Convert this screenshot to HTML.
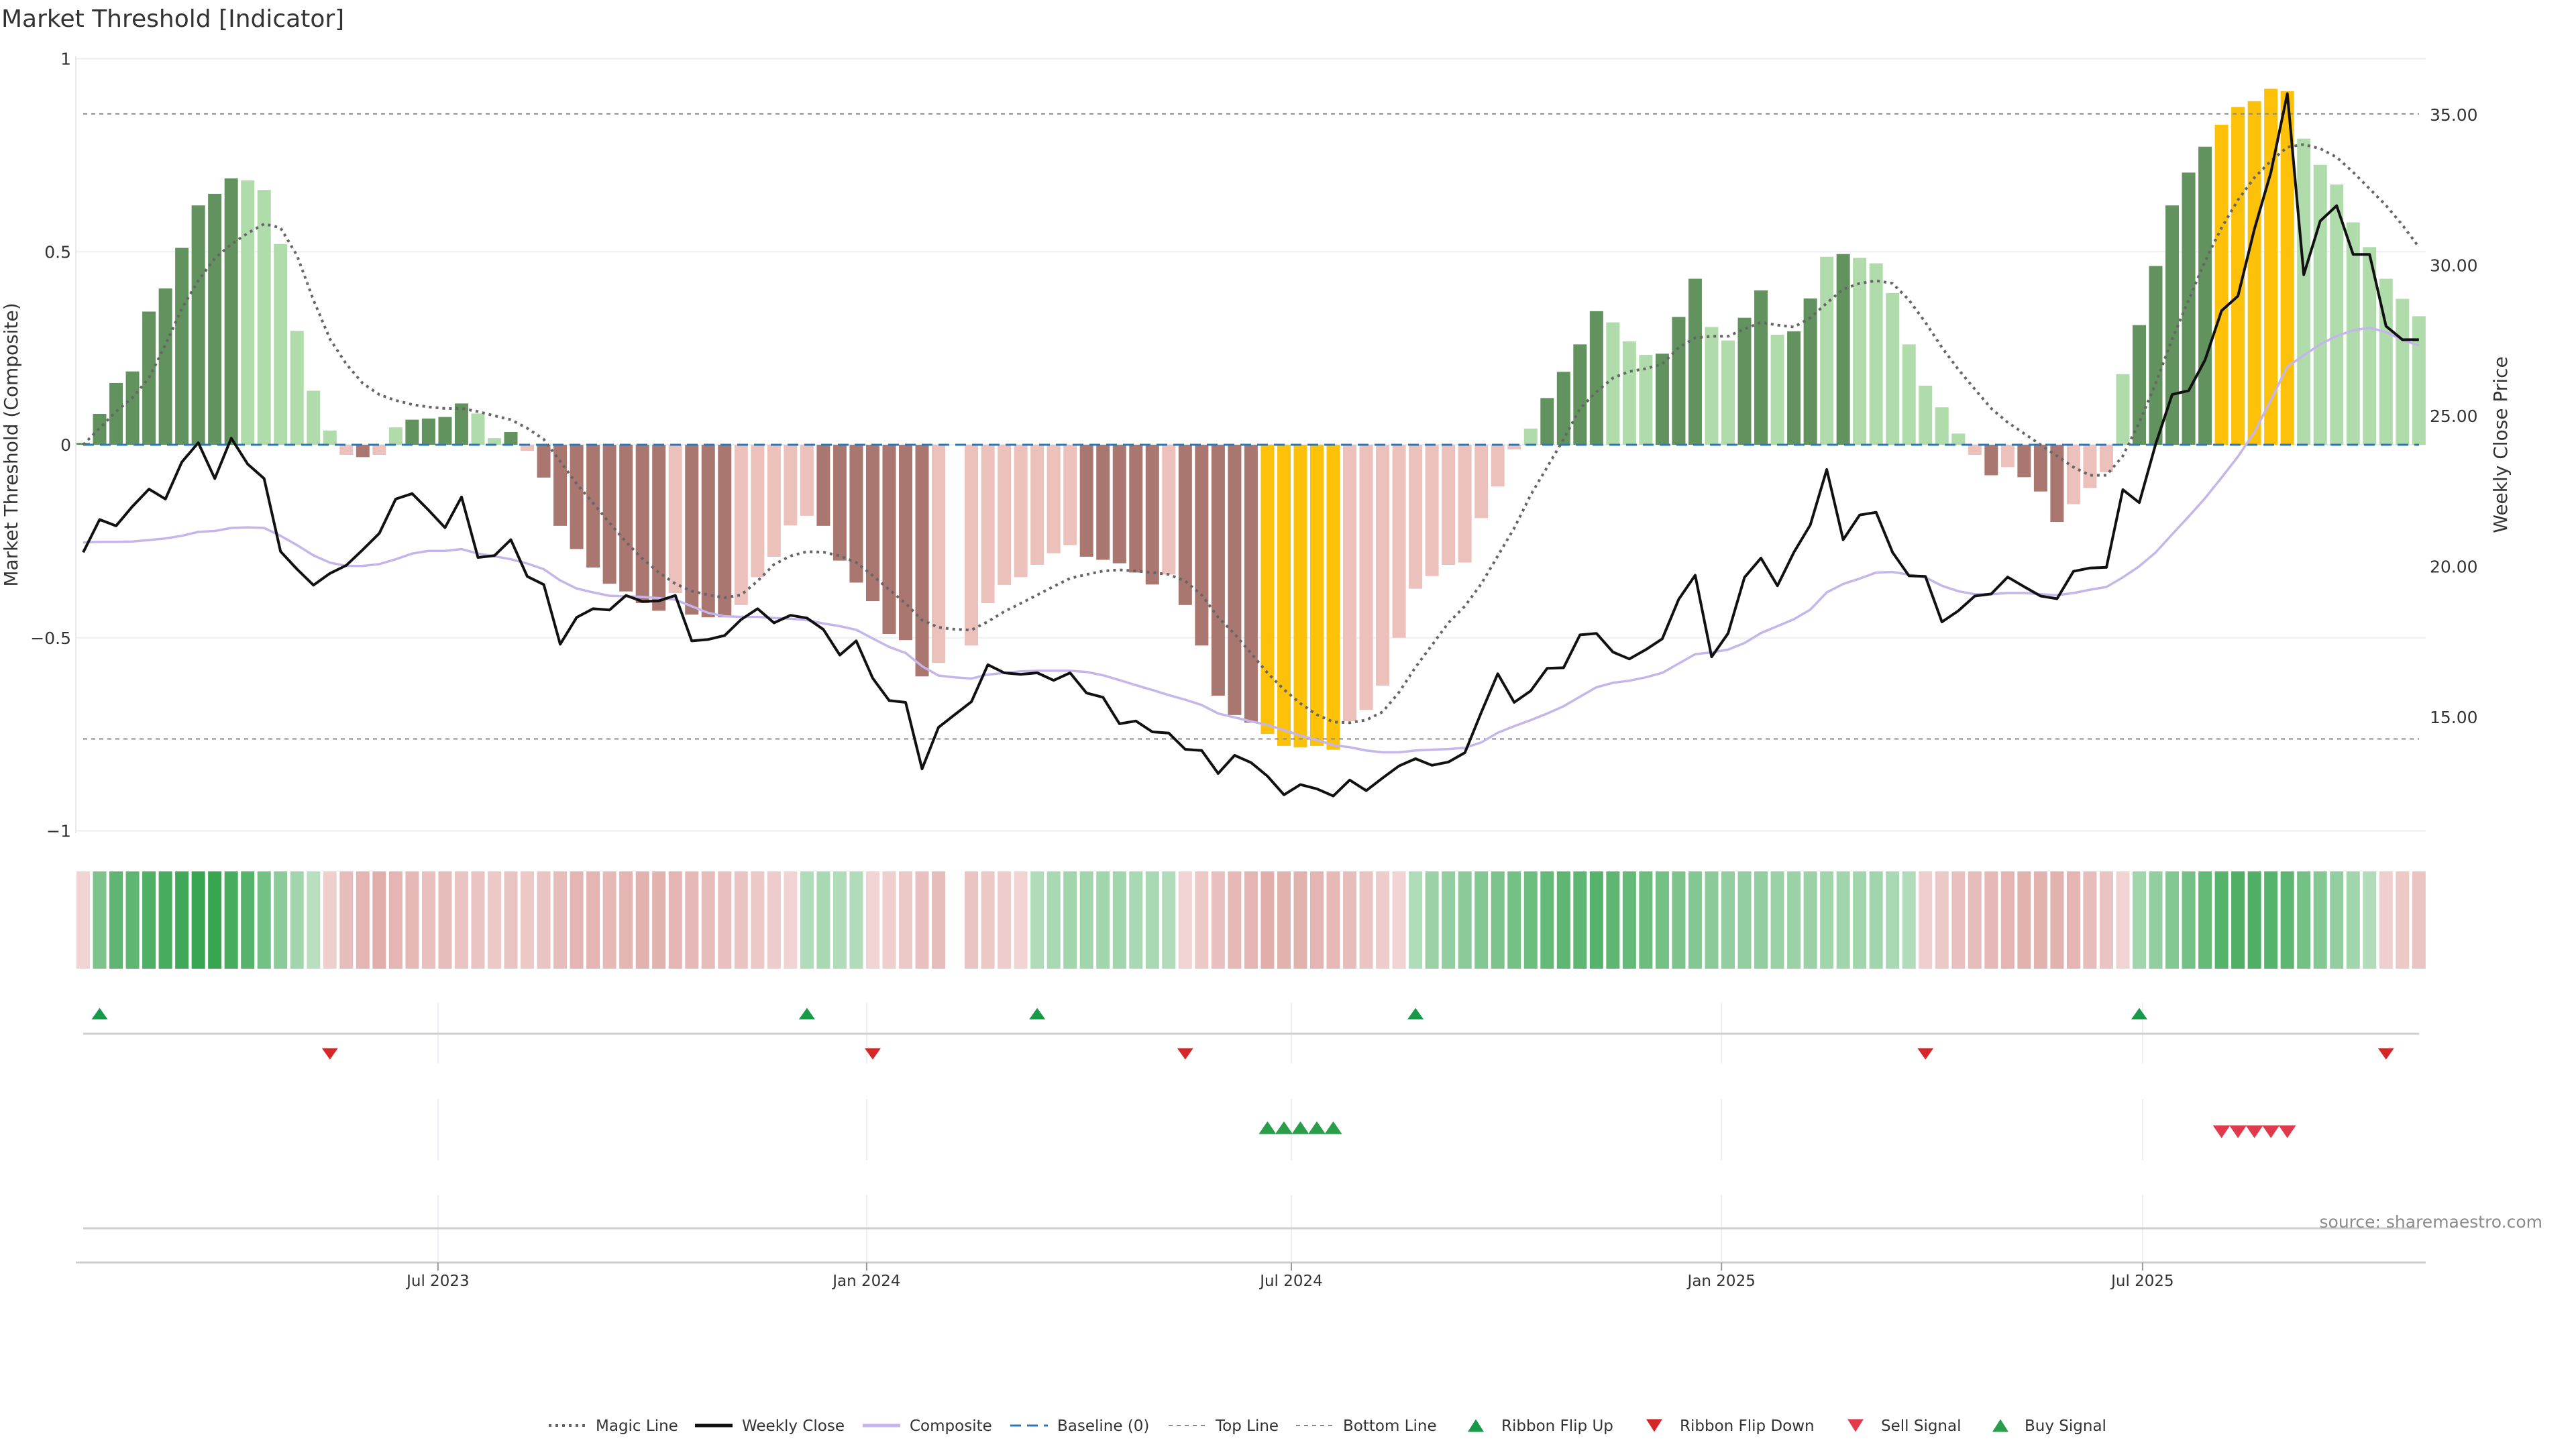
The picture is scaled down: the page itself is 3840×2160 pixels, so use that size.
<!DOCTYPE html>
<html><head><meta charset="utf-8"><title>Market Threshold [Indicator]</title>
<style>
html,body{margin:0;padding:0;background:#fff;}
svg{display:block;font-family:"DejaVu Sans","Liberation Sans",sans-serif;}
</style></head>
<body>
<svg id="chart" width="3840" height="2160" viewBox="0 0 3840 2160" xmlns="http://www.w3.org/2000/svg">
  <rect x="0" y="0" width="3840" height="2160" fill="#ffffff"/>
  <text x="2" y="40" font-size="36" fill="#333">Market Threshold [Indicator]</text>
  <g id="grid"></g>
  <g id="bars"></g>
  <g id="lines"></g>
  <g id="ribbon"></g>
  <g id="signals"></g>
  <g id="axes"></g>
  <g id="legend"></g>
</svg>
<script>
const categories = ["Jul 2023","Jan 2024","Jul 2024","Jan 2025","Jul 2025"];
const tickIndex = [21.57,47.63,73.45,99.6,125.2];
const leftTicks = [1,0.5,0,-0.5,-1];
const leftTickLabels = ["1","0.5","0","\u22120.5","\u22121"];
const rightTicks = [35,30,25,20,15];
const rightTickLabels = ["35.00","30.00","25.00","20.00","15.00"];
const topLineValue = 0.857;
const bottomLineValue = -0.762;

const compositeBars = [0.005,0.08,0.16,0.19,0.345,0.405,0.51,0.62,0.65,0.69,
0.685,0.66,0.52,0.295,0.14,0.037,-0.026,-0.032,-0.026,0.045,
0.065,0.068,0.072,0.107,0.081,0.017,0.033,-0.016,-0.085,-0.21,
-0.27,-0.318,-0.36,-0.38,-0.41,-0.43,-0.384,-0.44,-0.447,-0.447,
-0.415,-0.343,-0.29,-0.209,-0.184,-0.21,-0.30,-0.357,-0.405,-0.49,
-0.506,-0.60,-0.565,null,-0.52,-0.41,-0.363,-0.343,-0.311,-0.281,
-0.26,-0.29,-0.298,-0.307,-0.331,-0.362,-0.336,-0.415,-0.52,-0.65,
-0.70,-0.72,-0.749,-0.78,-0.784,-0.78,-0.79,-0.716,-0.687,-0.624,
-0.50,-0.373,-0.34,-0.311,-0.305,-0.19,-0.108,-0.012,0.042,0.121,
0.189,0.26,0.346,0.317,0.268,0.233,0.236,0.331,0.43,0.305,
0.27,0.329,0.40,0.285,0.294,0.379,0.487,0.494,0.484,0.47,
0.393,0.26,0.153,0.097,0.029,-0.026,-0.079,-0.058,-0.084,-0.121,
-0.20,-0.154,-0.112,-0.071,0.183,0.31,0.463,0.62,0.705,0.772,
0.829,0.875,0.89,0.922,0.916,0.793,0.725,0.674,0.576,0.512,
0.43,0.378,0.333];
const barStates = ("GGGGGGGGGG"+"ggggggrRrg"+"GGGGggGrRR"+"RRRRRRrRRR"+"rrrrrRRRRR"+
"RRr-rrrrrr"+"rRRRRRrRRR"+"RRYYYYYrrr"+"rrrrrrrrgG"+"GGGgggGGGg"+
"gGGgGGgGgg"+"gggggrRrRR"+"RrrrgGGGGG"+"YYYYYggggg"+"ggg").split("");
const weeklyClose = [20.47,21.56,21.35,22.0,22.57,22.24,23.47,24.11,22.92,24.26,
23.4,22.92,20.5,19.91,19.38,19.77,20.04,20.56,21.1,22.24,
22.42,21.87,21.29,22.31,20.3,20.36,20.89,19.67,19.4,17.42,
18.31,18.6,18.56,19.04,18.84,18.86,19.04,17.53,17.58,17.71,
18.24,18.6,18.13,18.38,18.29,17.91,17.06,17.53,16.29,15.55,
15.49,13.28,14.66,15.09,15.51,16.74,16.47,16.42,16.47,16.22,
16.47,15.8,15.66,14.78,14.87,14.51,14.47,13.93,13.89,13.13,
13.73,13.49,13.04,12.42,12.76,12.62,12.38,12.91,12.56,12.98,
13.38,13.62,13.4,13.51,13.82,15.16,16.44,15.49,15.87,16.62,
16.64,17.73,17.78,17.16,16.93,17.24,17.6,18.91,19.71,17.0,
17.78,19.64,20.28,19.36,20.47,21.38,23.22,20.89,21.71,21.8,
20.47,19.69,19.67,18.16,18.53,19.02,19.09,19.65,19.33,19.02,
18.93,19.84,19.95,19.97,22.55,22.12,24.07,25.71,25.84,26.86,
28.49,28.98,31.2,33.09,35.7,29.69,31.47,31.98,30.36,30.36,
27.98,27.53,27.53];
const compositeLine = [20.80,20.82,20.82,20.83,20.88,20.93,21.02,21.15,21.18,21.28,
21.30,21.28,21.02,20.71,20.37,20.13,20.02,20.02,20.08,20.24,
20.43,20.52,20.52,20.58,20.43,20.34,20.24,20.10,19.91,19.54,
19.27,19.14,19.03,19.01,18.99,18.95,18.90,18.68,18.46,18.35,
18.33,18.33,18.29,18.27,18.22,18.11,18.02,17.90,17.61,17.33,
17.13,16.69,16.38,16.32,16.28,16.41,16.47,16.52,16.54,16.54,
16.54,16.50,16.39,16.23,16.06,15.90,15.73,15.58,15.40,15.12,
14.99,14.86,14.74,14.57,14.39,14.24,14.07,14.00,13.89,13.83,
13.83,13.89,13.92,13.94,13.98,14.16,14.48,14.70,14.90,15.12,
15.36,15.68,15.99,16.14,16.21,16.32,16.47,16.78,17.09,17.15,
17.24,17.46,17.79,18.02,18.25,18.57,19.14,19.42,19.60,19.80,
19.82,19.73,19.64,19.36,19.18,19.08,19.08,19.12,19.12,19.08,
19.05,19.12,19.23,19.32,19.64,20.01,20.47,21.07,21.66,22.27,
22.95,23.65,24.46,25.53,26.64,27.01,27.38,27.65,27.84,27.93,
27.78,27.52,27.34];
const magicLine = [0.0,0.043,0.086,0.122,0.173,0.259,0.353,0.425,0.483,0.519,
0.548,0.572,0.562,0.49,0.375,0.274,0.209,0.159,0.13,0.115,
0.104,0.098,0.094,0.094,0.086,0.075,0.065,0.043,0.014,-0.043,
-0.101,-0.151,-0.202,-0.252,-0.295,-0.331,-0.36,-0.379,-0.389,-0.396,
-0.389,-0.353,-0.31,-0.288,-0.277,-0.278,-0.288,-0.305,-0.339,-0.375,
-0.411,-0.454,-0.473,-0.478,-0.48,-0.458,-0.432,-0.411,-0.389,-0.367,
-0.346,-0.336,-0.327,-0.324,-0.327,-0.331,-0.336,-0.353,-0.389,-0.447,
-0.49,-0.54,-0.591,-0.634,-0.67,-0.699,-0.718,-0.72,-0.713,-0.692,
-0.641,-0.576,-0.519,-0.461,-0.418,-0.36,-0.288,-0.216,-0.13,-0.058,
0.014,0.094,0.137,0.173,0.19,0.197,0.209,0.252,0.277,0.281,
0.281,0.30,0.317,0.31,0.305,0.329,0.367,0.403,0.418,0.425,
0.418,0.375,0.317,0.252,0.195,0.144,0.094,0.058,0.029,0.0,
-0.029,-0.058,-0.079,-0.079,-0.029,0.058,0.159,0.274,0.375,0.476,
0.562,0.634,0.692,0.735,0.771,0.778,0.767,0.745,0.706,0.663,
0.62,0.569,0.512];
const ribbonLevels = [-0.15,0.55,0.75,0.75,0.85,0.9,0.95,1,1,0.9,
0.8,0.6,0.45,0.3,0.15,-0.2,-0.45,-0.55,-0.65,-0.55,
-0.5,-0.4,-0.45,-0.35,-0.35,-0.3,-0.35,-0.3,-0.35,-0.45,
-0.55,-0.55,-0.5,-0.55,-0.6,-0.6,-0.55,-0.5,-0.45,-0.4,
-0.35,-0.3,-0.25,-0.15,0.2,0.25,0.2,0.2,-0.15,-0.2,
-0.3,-0.4,-0.45,null,-0.35,-0.3,-0.25,-0.15,0.2,0.25,
0.3,0.3,0.3,0.3,0.25,0.25,0.2,-0.15,-0.3,-0.4,
-0.5,-0.55,-0.65,-0.6,-0.6,-0.55,-0.5,-0.45,-0.35,-0.25,
-0.15,0.2,0.35,0.4,0.45,0.5,0.55,0.6,0.65,0.7,
0.75,0.75,0.8,0.75,0.7,0.65,0.6,0.55,0.5,0.45,
0.4,0.4,0.4,0.35,0.35,0.35,0.3,0.3,0.3,0.3,
0.25,0.2,-0.2,-0.3,-0.4,-0.45,-0.5,-0.55,-0.6,-0.6,
-0.6,-0.55,-0.45,-0.35,-0.15,0.3,0.4,0.5,0.6,0.7,
0.8,0.85,0.85,0.8,0.75,0.6,0.5,0.4,0.3,0.2,
-0.2,-0.3,-0.35];
const flipUpIdx = [1,44,58,81,125];
const flipDownIdx = [15,48,67,112,140];
const buyIdx = [72,73,74,75,76];
const sellIdx = [130,131,132,133,134];

const NS = "http://www.w3.org/2000/svg";
const X0 = 124, DX = 24.52;
const xS = i => X0 + i * DX;
const yL = v => 663 - v * 575.5;
const yP = p => 171 + (35 - p) * 44.9;
const PL = 113, PR = 3616;

function mk(tag, attrs, parent) {
  const el = document.createElementNS(NS, tag);
  for (const k in attrs) el.setAttribute(k, attrs[k]);
  parent.appendChild(el);
  return el;
}
const grid = document.getElementById("grid");
const bars = document.getElementById("bars");
const lines = document.getElementById("lines");
const ribbon = document.getElementById("ribbon");
const signals = document.getElementById("signals");
const axes = document.getElementById("axes");
const legend = document.getElementById("legend");

leftTicks.forEach((v, k) => {
  const g = mk("line", {x1: PL, x2: PR, y1: yL(v), y2: yL(v), stroke: "#eceef3", "stroke-width": 2}, grid);
  
  
  const t = mk("text", {x: 106, y: yL(v) + 9, "text-anchor": "end", "font-size": 25, fill: "#333"}, axes);
  t.textContent = leftTickLabels[k];
  
  
});
const la = mk("line", {x1: PL, x2: PL, y1: 84, y2: 1242, stroke: "#e6e8ee", "stroke-width": 2}, grid);



rightTicks.forEach((p, k) => {
  const t = mk("text", {x: 3622, y: yP(p) + 9, "font-size": 25, fill: "#333"}, axes);
  t.textContent = rightTickLabels[k];
  
  
});

const barColors = {G: "#62935f", g: "#b0dbab", R: "#aa7670", r: "#ecc0bb", Y: "#fcc108"};
compositeBars.forEach((v, i) => {
  if (v === null) return;
  const y1 = yL(Math.max(v, 0)), y2 = yL(Math.min(v, 0));
  const r = mk("rect", {x: xS(i) - 10, y: y1, width: 20, height: Math.max(y2 - y1, 1), fill: barColors[barStates[i]] || "#ccc"}, bars);
  
  
});

[[topLineValue, 'top-line'], [bottomLineValue, 'bottom-line']].forEach(([v, n]) => {
  const l = mk("line", {x1: X0, x2: 3606, y1: yL(v), y2: yL(v), stroke: "#8a8a8a", "stroke-width": 2, "stroke-dasharray": "6 6"}, lines);
  
  
});
const base = mk("line", {x1: X0, x2: 3606, y1: yL(0), y2: yL(0), stroke: "#2f78b5", "stroke-width": 3, "stroke-dasharray": "16 9"}, lines);



function pathOf(arr, ys) {
  return arr.map((v, i) => (i ? "L" : "M") + xS(i).toFixed(1) + "," + ys(v).toFixed(1)).join("");
}
const comp = mk("path", {d: pathOf(compositeLine, yP), fill: "none", stroke: "#c4b6ea", "stroke-width": 3.5}, lines);


const magic = mk("path", {d: pathOf(magicLine, yL), fill: "none", stroke: "#666", "stroke-width": 4, "stroke-dasharray": "4 6"}, lines);


const close = mk("path", {d: pathOf(weeklyClose, yP), fill: "none", stroke: "#111", "stroke-width": 4, "stroke-linejoin": "round"}, lines);



function ribbonColor(t) {
  const lerp = (a, b, s) => Math.round(a + (b - a) * s);
  let c0, c1, s = Math.min(Math.abs(t), 1);
  if (t >= 0) { c0 = [206, 234, 211]; c1 = [56, 165, 81]; }
  else { c0 = [245, 222, 222]; c1 = [214, 148, 144]; }
  return "rgb(" + lerp(c0[0], c1[0], s) + "," + lerp(c0[1], c1[1], s) + "," + lerp(c0[2], c1[2], s) + ")";
}
ribbonLevels.forEach((t, i) => {
  if (t === null) return;
  const r = mk("rect", {x: xS(i) - 10, y: 1299, width: 20, height: 145, fill: ribbonColor(t)}, ribbon);
  
  
});

const rowSegs = [[1495, 1585], [1638, 1730], [1781, 1880]];
tickIndex.forEach(ti => {
  rowSegs.forEach(([a, b]) => {
    const g = mk("line", {x1: xS(ti), x2: xS(ti), y1: a, y2: b, stroke: "#eceef3", "stroke-width": 2}, grid);
    
    
  });
});
[1541, 1831].forEach(y => {
  const l = mk("line", {x1: X0, x2: 3606, y1: y, y2: y, stroke: "#cfcfcf", "stroke-width": 3}, grid);
  
  
});
function tri(cx, cy, w, h, up, color, parent) {
  const pts = up ? [[cx - w / 2, cy + h / 2], [cx + w / 2, cy + h / 2], [cx, cy - h / 2]]
                 : [[cx - w / 2, cy - h / 2], [cx + w / 2, cy - h / 2], [cx, cy + h / 2]];
  return mk("polygon", {points: pts.map(p => p.join(",")).join(" "), fill: color}, parent);
}
flipUpIdx.forEach(i => {
  const p = tri(xS(i), 1511, 24, 17, true, "#169a48", signals);
  
  
});
flipDownIdx.forEach(i => {
  const p = tri(xS(i), 1571, 24, 17, false, "#d62728", signals);
  
  
});
buyIdx.forEach(i => {
  const p = tri(xS(i), 1681, 26, 19, true, "#2a9d48", signals);
  
  
});
sellIdx.forEach(i => {
  const p = tri(xS(i), 1687, 26, 19, false, "#e03a4c", signals);
  
  
});

const xa = mk("line", {x1: PL, x2: PR, y1: 1882, y2: 1882, stroke: "#cccccc", "stroke-width": 3}, axes);


tickIndex.forEach((ti, k) => {
  const tk = mk("line", {x1: xS(ti), x2: xS(ti), y1: 1882, y2: 1894, stroke: "#999", "stroke-width": 2}, axes);
  
  
  const t = mk("text", {x: xS(ti), y: 1917, "text-anchor": "middle", "font-size": 23, fill: "#333"}, axes);
  t.textContent = categories[k];
  
  
});

const lt = mk("text", {x: 0, y: 0, transform: "translate(26,663) rotate(-90)", "text-anchor": "middle", "font-size": 28, fill: "#333"}, axes);
lt.textContent = "Market Threshold (Composite)";


const rt = mk("text", {x: 0, y: 0, transform: "translate(3737,663) rotate(-90)", "text-anchor": "middle", "font-size": 28, fill: "#333"}, axes);
rt.textContent = "Weekly Close Price";


const src = mk("text", {x: 3790, y: 1830, "text-anchor": "end", "font-size": 25, fill: "#8a8a8a"}, axes);
src.textContent = "source: sharemaestro.com";



const LY = 2125;
function legText(x, s) {
  const t = mk("text", {x: x, y: LY + 8, "font-size": 23, fill: "#333"}, legend);
  t.textContent = s;
  
  
}
function legLine(x, attrs) {
  const base = {x1: x, x2: x + 56, y1: LY, y2: LY};
  const l = mk("line", Object.assign(base, attrs), legend);
  
  
}
legLine(818, {stroke: "#666", "stroke-width": 4, "stroke-dasharray": "4 6"}); legText(888, "Magic Line");
legLine(1036, {stroke: "#111", "stroke-width": 5}); legText(1106, "Weekly Close");
legLine(1286, {stroke: "#c4b6ea", "stroke-width": 5}); legText(1356, "Composite");
legLine(1506, {stroke: "#2f78b5", "stroke-width": 3, "stroke-dasharray": "16 9"}); legText(1576, "Baseline (0)");
legLine(1742, {stroke: "#8a8a8a", "stroke-width": 2, "stroke-dasharray": "6 6"}); legText(1812, "Top Line");
legLine(1932, {stroke: "#8a8a8a", "stroke-width": 2, "stroke-dasharray": "6 6"}); legText(2002, "Bottom Line");
[[2200, true, "#169a48", 2238, "Ribbon Flip Up"], [2466, false, "#d62728", 2504, "Ribbon Flip Down"],
 [2766, false, "#e03a4c", 2804, "Sell Signal"], [2982, true, "#2a9d48", 3018, "Buy Signal"]].forEach(([x, up, c, tx, s]) => {
  const p = tri(x, LY, 24, 19, up, c, legend);
  
  
  legText(tx, s);
});
</script>
</body></html>
